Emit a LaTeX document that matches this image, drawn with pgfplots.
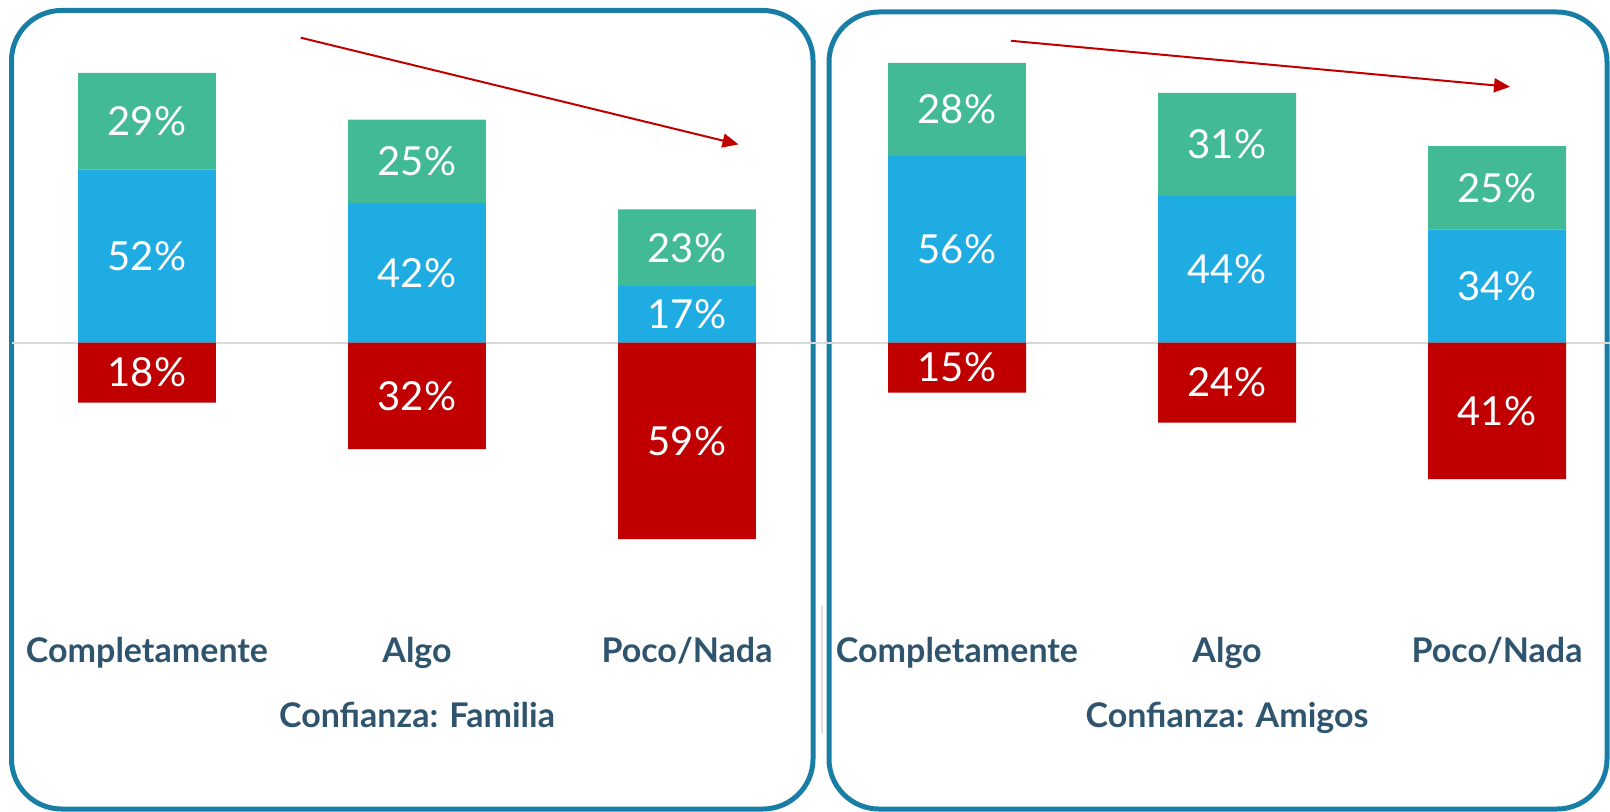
\documentclass[border=0pt]{standalone}
\usepackage{pgfplots}
\usepackage{pgfplotstable}
\pgfplotsset{compat=1.18}
\usetikzlibrary{arrows.meta}
\usepackage{fontspec}
\setmainfont{Lato}
\definecolor{cgreen}{RGB}{67,186,150}
\definecolor{cblue}{RGB}{31,172,226}
\definecolor{cred}{RGB}{192,0,0}
\definecolor{cborder}{RGB}{24,126,166}
\definecolor{ctext}{RGB}{46,84,110}
\definecolor{czero}{RGB}{217,217,217}

% Familia
\pgfplotstableread{
x v
0 -18
1 -32
2 -59
}\famred
\pgfplotstableread{
x v
0 52
1 42
2 17
}\famblue
\pgfplotstableread{
x v
0 29
1 25
2 23
}\famgreen
% Amigos
\pgfplotstableread{
x v
0 -15
1 -24
2 -41
}\amired
\pgfplotstableread{
x v
0 56
1 44
2 34
}\amiblue
\pgfplotstableread{
x v
0 28
1 31
2 25
}\amigreen

\pgfplotsset{
  base/.style={
    scale only axis, width=405pt, height=305pt,
    xmin=-0.5, xmax=2.5, ymin=-86.3, ymax=96.9,
    axis line style={draw=none}, tick style={draw=none},
    ytick=\empty, xtick={0,1,2},
    bar width=0.511, clip=false,
    /pgf/number format/assume math mode=true,
    nodes near coords={\pgfmathprintnumber{\pgfplotspointmeta}\%},
    point meta={abs(\thisrow{v})},
    visualization depends on={\thisrow{v} \as \rawv},
    every node near coord/.append style={anchor=center, text=white,
      font=\fontsize{20}{23}\selectfont, shift={(axis direction cs:0,-\rawv/2)}},
    xticklabel style={font=\bfseries\fontsize{17}{20}\selectfont, text=ctext},
    xlabel style={font=\bfseries\fontsize{17}{20}\selectfont, text=ctext, yshift=-10pt},
  },
  zeroline/.style={
    extra y ticks={0}, extra y tick labels={},
    extra y tick style={grid=major, major grid style={czero, line width=1pt}},
  },
}

\begin{document}
\begin{tikzpicture}
\useasboundingbox (0,0) rectangle (805pt,-406pt);

% panel borders
\draw[cborder, line width=2.5pt, rounded corners=25pt] (5.75pt,-5.25pt) rectangle (406.5pt,-404.5pt);
\draw[cborder, line width=2.5pt, rounded corners=25pt] (414.5pt,-6pt) rectangle (803.5pt,-404.5pt);
\draw[black!12, line width=0.8pt] (411pt,-303pt) -- (411pt,-367pt);

% ---- Familia ----
\begin{axis}[base, zeroline, ybar stacked, at={(6pt,-10pt)}, anchor=north west,
  xticklabels={Completamente,Algo,Poco/Nada}, xlabel={Confianza: Familia}]
\addplot[fill=cblue, draw=none] table[x=x, y=v] {\famblue};
\addplot[fill=cgreen, draw=none] table[x=x, y=v] {\famgreen};
\end{axis}
\begin{axis}[base, ybar, at={(6pt,-10pt)}, anchor=north west, xticklabels={}]
\addplot[fill=cred, draw=none] table[x=x, y=v] {\famred};
\end{axis}

% ---- Amigos ----
\begin{axis}[base, zeroline, ybar stacked, at={(411pt,-10pt)}, anchor=north west,
  xticklabels={Completamente,Algo,Poco/Nada}, xlabel={Confianza: Amigos}]
\addplot[fill=cblue, draw=none] table[x=x, y=v] {\amiblue};
\addplot[fill=cgreen, draw=none] table[x=x, y=v] {\amigreen};
\end{axis}
\begin{axis}[base, ybar, at={(411pt,-10pt)}, anchor=north west, xticklabels={}]
\addplot[fill=cred, draw=none] table[x=x, y=v] {\amired};
\end{axis}

% trend arrows
\draw[cred, line width=1pt, -{Triangle[length=8pt,width=7pt]}] (150.35pt,-18.85pt) -- (369.25pt,-72.2pt);
\draw[cred, line width=1pt, -{Triangle[length=8pt,width=7pt]}] (505.5pt,-20.4pt) -- (755pt,-43.4pt);
\end{tikzpicture}
\end{document}
